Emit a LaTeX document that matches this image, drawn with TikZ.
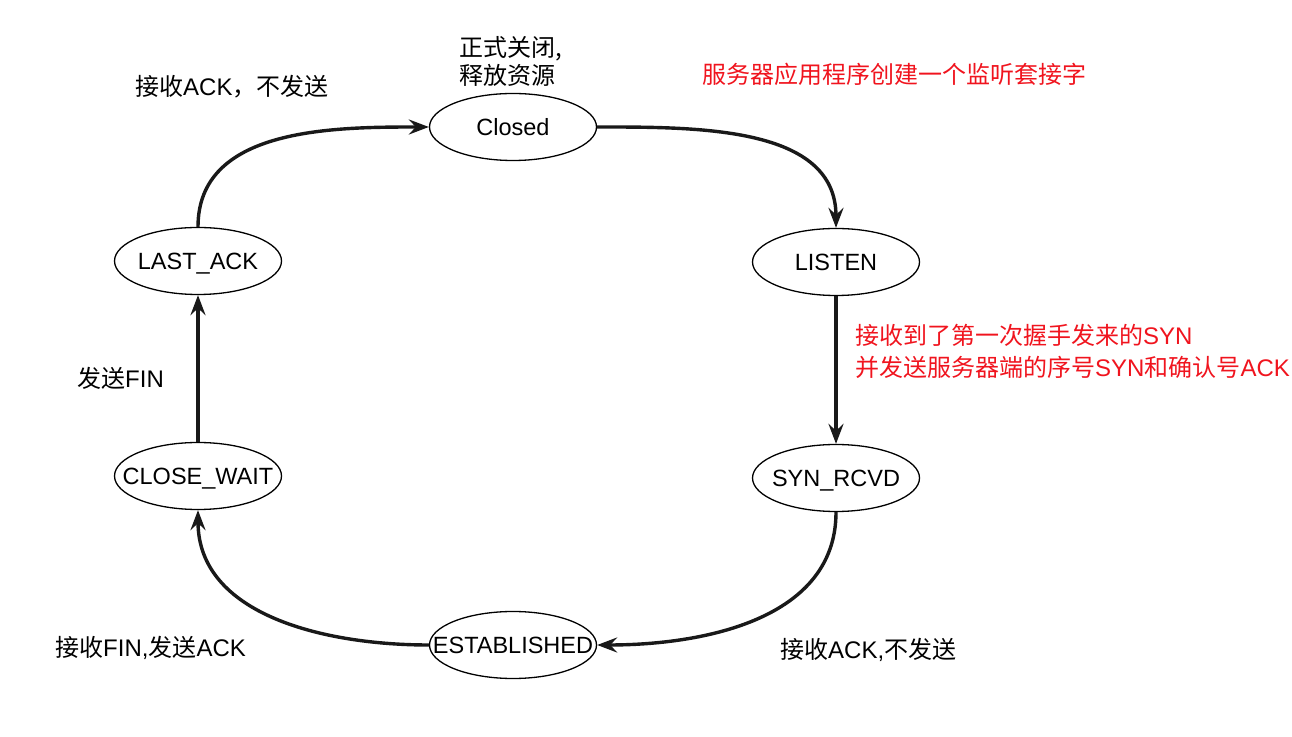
\documentclass[tikz,border=0pt]{standalone}
\usepackage{fontspec}
\setmainfont{Liberation Sans}
\newfontfamily\cjk{Noto Sans CJK SC}
\usepackage{xcolor}
\usetikzlibrary{shapes.geometric}
\usetikzlibrary{arrows.meta}
\definecolor{notered}{HTML}{F0141E}

\tikzset{
  state/.style={draw, ellipse, line width=1.3pt, minimum width=167pt,
    minimum height=67pt, inner xsep=-90pt, inner ysep=0pt,
    font=\fontsize{23.5}{28}\selectfont, text height=17pt, text depth=0pt},
  trans/.style={line width=3.4pt, draw=black!90,
    -{Stealth[length=20pt, width=15pt, inset=7pt]}},
  note/.style={inner sep=0pt, anchor=west, align=left},
}

\begin{document}
\begin{tikzpicture}[x=1pt, y=1pt, font=\fontsize{24}{28}\selectfont]
  \useasboundingbox (0,0) rectangle (1292,736);

  \node[state] (closed) at (513,609) {Closed};
  \node[state] (listen) at (836,474) {LISTEN};
  \node[state] (synrcvd) at (836,258) {SYN\_RCVD};
  \node[state] (established) at (513,91) {ESTABLISHED};
  \node[state] (closewait) at (198,260) {CLOSE\_WAIT};
  \node[state] (lastack) at (198,475) {LAST\_ACK};

  \draw[trans] (closed.east) to[out=0, in=90] (listen.north);
  \draw[trans] (listen) -- (synrcvd);
  \draw[trans] (synrcvd.south) to[out=-90, in=0] (established.east);
  \draw[trans] (established.west) to[out=180, in=-90] (closewait.south);
  \draw[trans] (closewait) -- (lastack);
  \draw[trans] (lastack.north) to[out=90, in=180] (closed.west);

  % labels
  \node[note] (release) at (459,675) {\cjk 正式关闭,\\\cjk 释放资源};
  \node[note] (acklast) at (135,649) {{\cjk 接收}ACK{\cjk ，不发送}};
  \node[note, text=notered] (listennote) at (702,662)
    {\cjk 服务器应用程序创建一个监听套接字};
  \node[note, text=notered, font=\fontsize{24}{32}\selectfont] (synnote) at (855,385)
    {{\cjk 接收到了第一次握手发来的}SYN\\
     {\cjk 并发送服务器端的序号}SYN{\cjk 和确认号}ACK};
  \node[note] (finsend) at (77,358) {{\cjk 发送}FIN};
  \node[note] (finrecv) at (55,88) {{\cjk 接收}FIN,{\cjk 发送}ACK};
  \node[note] (ackrecv) at (780,86) {{\cjk 接收}ACK,{\cjk 不发送}};
\end{tikzpicture}
\end{document}
